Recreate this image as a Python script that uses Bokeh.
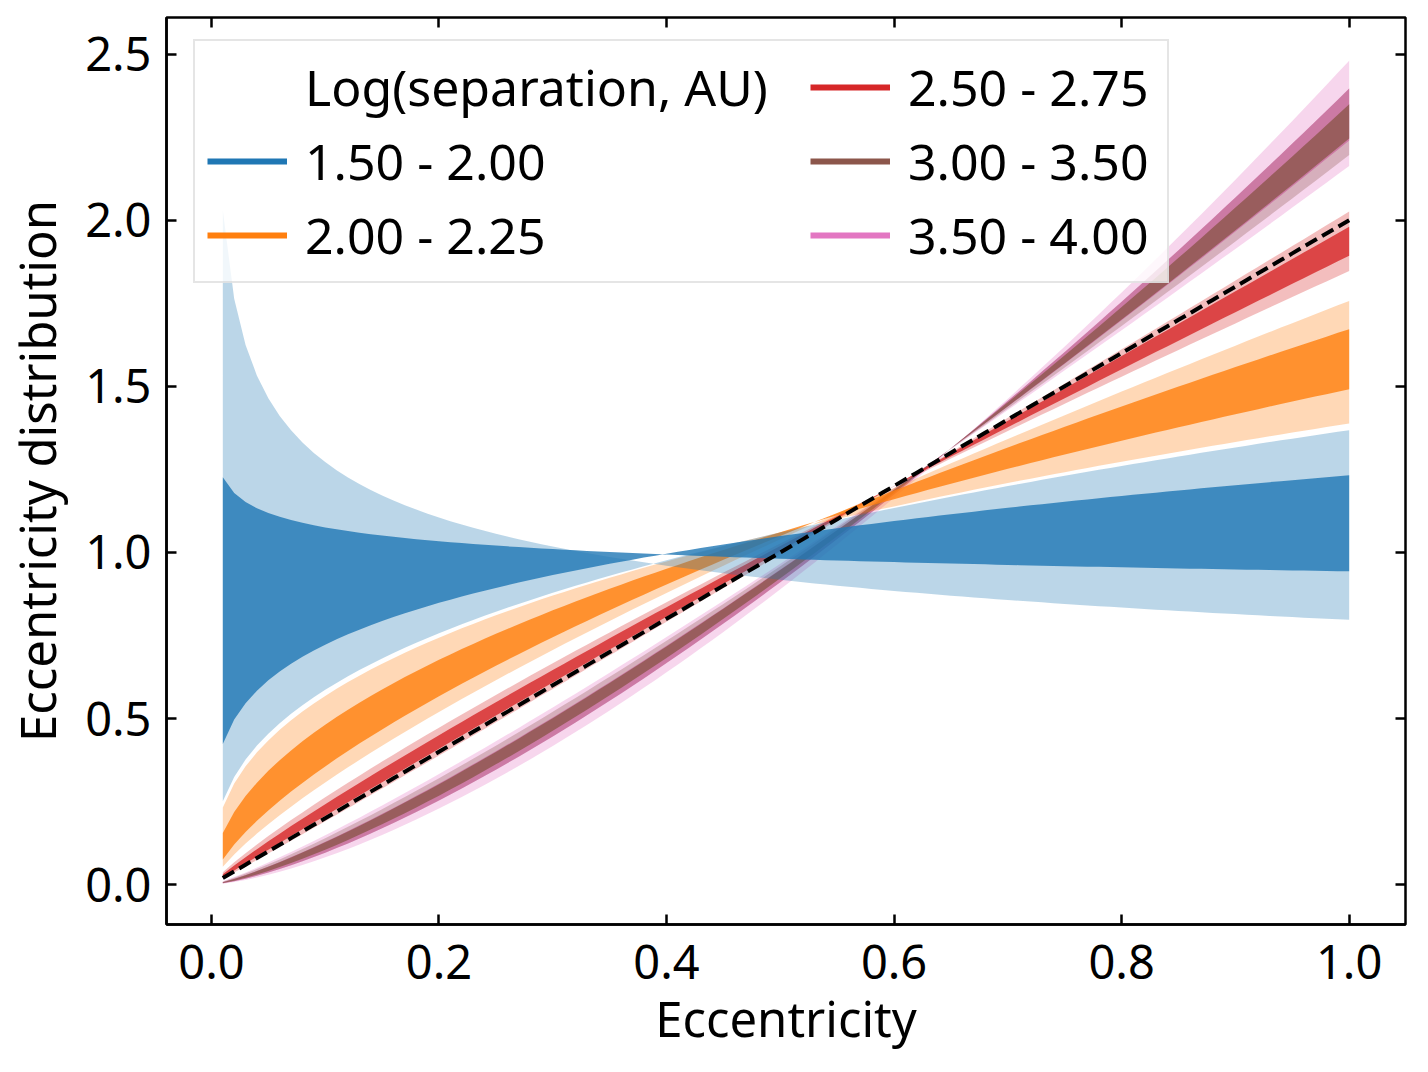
import numpy as np
from bokeh.plotting import figure
from bokeh.models import (Legend, LegendItem, LinearAxis, FixedTicker,
                          NumeralTickFormatter, Range1d, CustomJSTickFormatter)
from bokeh.embed import file_html
from bokeh.resources import INLINE

# ---- data ----
legend_title = "Log(separation, AU)"
bin_labels = ["1.50 - 2.00", "2.00 - 2.25", "2.50 - 2.75", "3.00 - 3.50", "3.50 - 4.00"]
bin_colors = ["#1f77b4", "#ff7f0e", "#d62728", "#8c564b", "#e377c2"]
# power-law index a of the eccentricity distribution f(e) = (a + 1) e^a
alpha_outer_lo = [-0.203, 0.388, 0.847, 1.196, 1.163]
alpha_outer_hi = [0.368, 0.757, 1.026, 1.396, 1.480]
alpha_inner_lo = [-0.057, 0.491, 0.893, 1.246, 1.240]
alpha_inner_hi = [0.232, 0.672, 0.980, 1.349, 1.396]
ecc = np.linspace(0.01, 1.0, 100)
thermal_slope = 2.0
x_ticks = [0.0, 0.2, 0.4, 0.6, 0.8, 1.0]
y_ticks = [0.0, 0.5, 1.0, 1.5, 2.0, 2.5]

FONT = "Noto Sans"
TICK_FS = "47px"
LABEL_FS = "49px"
LEGEND_FS = "50px"


def dist(a):
    return (a + 1.0) * ecc ** a


p = figure(frame_width=1239, frame_height=907,
           min_border_left=166, min_border_top=17, min_border_right=8, min_border_bottom=120,
           x_range=Range1d(-0.0395, 1.0495), y_range=Range1d(-0.12, 2.61),
           output_backend="svg", toolbar_location=None)
p.xgrid.visible = False
p.ygrid.visible = False
p.outline_line_color = "black"
p.outline_line_width = 2.5
p.outline_line_alpha = 1.0
p.background_fill_color = "white"
p.border_fill_color = "white"

# bands, drawn from the last bin to the first
for i in reversed(range(len(bin_labels))):
    c = bin_colors[i]
    p.varea(x=ecc, y1=dist(alpha_outer_lo[i]), y2=dist(alpha_outer_hi[i]),
            fill_color=c, fill_alpha=0.3)
    p.varea(x=ecc, y1=dist(alpha_inner_lo[i]), y2=dist(alpha_inner_hi[i]),
            fill_color=c, fill_alpha=0.8)

p.line(x=ecc, y=thermal_slope * ecc, line_color="black", line_width=4, line_dash="13 6")

# legend renderers (no visible data)
nan = float("nan")
r_title = p.line(x=[nan], y=[nan], line_alpha=0)
r_bins = [p.line(x=[nan], y=[nan], line_color=c, line_width=6) for c in bin_colors]

common = dict(label_text_font=FONT, label_text_font_size=LEGEND_FS, label_text_color="black",
              glyph_width=80, glyph_height=60, label_height=60, label_standoff=18,
              spacing=6, padding=12)

legend_a = Legend(items=[LegendItem(label=legend_title, renderers=[r_title]),
                         LegendItem(label=bin_labels[0], renderers=[r_bins[0]]),
                         LegendItem(label=bin_labels[1], renderers=[r_bins[1]])],
                  location=(27, 641), label_width=850,
                  border_line_color="#cccccc", border_line_width=2.5,
                  background_fill_color="white", background_fill_alpha=0.8, **common)
legend_b = Legend(items=[LegendItem(label=bin_labels[2], renderers=[r_bins[2]]),
                         LegendItem(label=bin_labels[3], renderers=[r_bins[3]]),
                         LegendItem(label=bin_labels[4], renderers=[r_bins[4]])],
                  location=(644, 655),
                  border_line_color=None, background_fill_alpha=0.0, **common)
p.add_layout(legend_a)
p.add_layout(legend_b)

# axes
for ax in (p.xaxis[0], p.yaxis[0]):
    ax.major_label_text_font = FONT
    ax.major_label_text_font_size = TICK_FS
    ax.major_label_text_color = "black"
    ax.axis_label_text_font = FONT
    ax.axis_label_text_font_size = LABEL_FS
    ax.axis_label_text_font_style = "normal"
    ax.axis_label_text_color = "black"
    ax.axis_line_width = 2.5
    ax.axis_line_color = "black"
    ax.major_tick_in = 10
    ax.major_tick_out = 0
    ax.major_tick_line_width = 2.5
    ax.minor_tick_in = 0
    ax.minor_tick_out = 0
    ax.formatter = NumeralTickFormatter(format="0.0")

p.xaxis[0].ticker = FixedTicker(ticks=x_ticks)
p.yaxis[0].ticker = FixedTicker(ticks=y_ticks)
p.xaxis[0].axis_label = "Eccentricity"
p.yaxis[0].axis_label = "Eccentricity distribution"
p.xaxis[0].major_label_standoff = 20
p.xaxis[0].axis_label_standoff = 3
p.yaxis[0].major_label_standoff = 15
p.yaxis[0].axis_label_standoff = 12

for place, ticks in (("above", x_ticks), ("right", y_ticks)):
    ax = LinearAxis(ticker=FixedTicker(ticks=ticks),
                    formatter=CustomJSTickFormatter(code="return ''"),
                    major_label_text_font_size="0px", major_label_standoff=0,
                    axis_line_color=None, major_tick_in=10, major_tick_out=0,
                    major_tick_line_width=2.5, minor_tick_in=0, minor_tick_out=0)
    p.add_layout(ax, place)

open("out.html", "w").write(file_html(p, INLINE))
